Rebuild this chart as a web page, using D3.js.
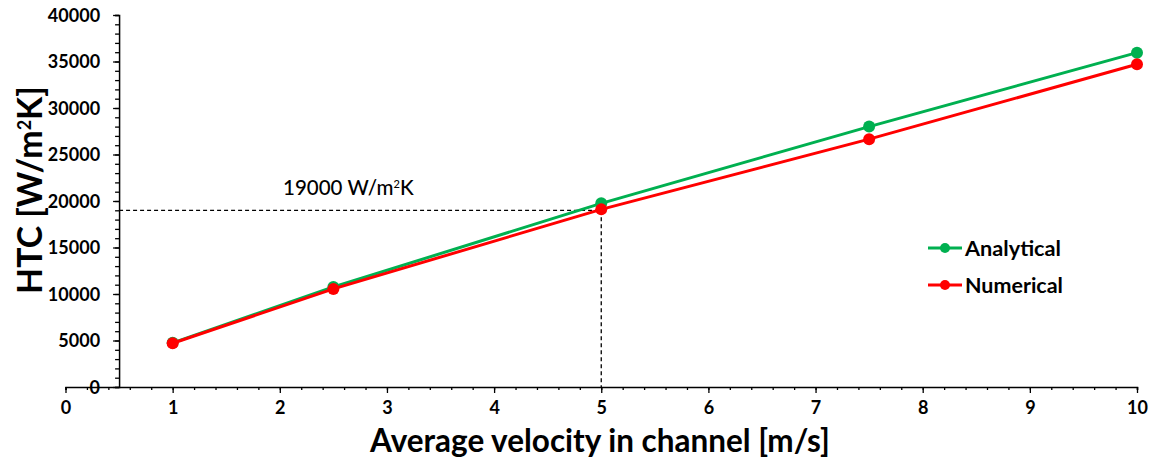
<!DOCTYPE html>
<html>
<head>
<meta charset="utf-8">
<script src="https://cdn.jsdelivr.net/npm/d3@7"></script>
<style>
  html, body { margin: 0; padding: 0; background: #fff; }
  svg { display: block; font-family: Lato, "Open Sans", sans-serif; }
</style>
</head>
<body>
<svg id="chart" width="1159" height="461"></svg>
<script>
// Heat transfer coefficient vs. channel velocity
const velocities = [1, 2.5, 5, 7.5, 10];
const analytical = [4750, 10750, 19750, 28000, 35950];
const numerical = [4700, 10550, 19100, 26650, 34700];
const seriesNames = ["Analytical", "Numerical"];
const seriesColors = ["#00B050", "#FF0000"];
const xTicks = [0, 1, 2, 3, 4, 5, 6, 7, 8, 9, 10];
const yTicks = [0, 5000, 10000, 15000, 20000, 25000, 30000, 35000, 40000];
const refVelocity = 5;
const refHTC = 19000;

const svg = d3.select("#chart");
const x = d3.scaleLinear().domain([0, 10]).range([65.5, 1137]);
const y = d3.scaleLinear().domain([0, 40000]).range([387, 15]);
const yAxisAt = 0.5;

// sets a font size so the text spans the given width
function fitWidth(sel, w) {
  const n = sel.node();
  const fs = parseFloat(sel.attr("font-size"));
  const len = n.getComputedTextLength();
  sel.attr("font-size", (fs * w / len).toFixed(2));
}

// X axis: major ticks at integers, minor every 0.2
const xAxisG = svg.append("g").attr("transform", `translate(0,${y(0)})`);
xAxisG.call(d3.axisBottom(x).tickValues(d3.range(0, 10.001, 0.2)).tickSize(3).tickFormat(""));
xAxisG.append("g").call(d3.axisBottom(x).tickValues(xTicks).tickSize(6).tickFormat(d3.format("d")));
xAxisG.selectAll(".domain").attr("stroke", "#000").attr("stroke-width", 1.5);
xAxisG.selectAll("line").attr("stroke", "#000").attr("stroke-width", 1.3);
xAxisG.selectAll("g g .domain").remove();
xAxisG.selectAll("text")
  .attr("fill", "#000").attr("font-size", 18).attr("font-weight", 700)
  .attr("font-family", "Lato, sans-serif").attr("dy", "1.0em");

// Y axis crossing at 0.5 m/s: major every 5000, minor every 1000
const yAxisG = svg.append("g").attr("transform", `translate(${x(yAxisAt)},0)`);
yAxisG.call(d3.axisLeft(y).tickValues(d3.range(0, 40001, 1000)).tickSize(4).tickFormat(""));
yAxisG.append("g").call(d3.axisLeft(y).tickValues(yTicks).tickSize(6).tickFormat(d3.format("d")));
yAxisG.selectAll(".domain").attr("stroke", "#000").attr("stroke-width", 1.5);
yAxisG.selectAll("g g .domain").remove();
yAxisG.selectAll("line").attr("stroke", "#000").attr("stroke-width", 1.3);
yAxisG.selectAll("text")
  .attr("fill", "#000").attr("font-size", 18).attr("font-weight", 700)
  .attr("font-family", "Lato, sans-serif").attr("x", -19).attr("dy", "0.36em");

// Reference guide at 5 m/s
const guide = svg.append("g").attr("stroke", "#000").attr("stroke-width", 1.3).attr("stroke-dasharray", "4,3");
guide.append("line").attr("x1", x(yAxisAt)).attr("x2", x(refVelocity)).attr("y1", y(refHTC)).attr("y2", y(refHTC));
guide.append("line").attr("x1", x(refVelocity)).attr("x2", x(refVelocity)).attr("y1", y(refHTC)).attr("y2", y(0));

const refLabel = svg.append("text")
  .attr("x", 283).attr("y", y(refHTC) - 15)
  .attr("font-size", 17).attr("fill", "#000").attr("font-family", "Lato, sans-serif").attr("font-weight", 500);
refLabel.append("tspan").text(d3.format("d")(refHTC) + " W/m");
refLabel.append("tspan").text("2").attr("font-size", 11).attr("dy", -7);
refLabel.append("tspan").text("K").attr("dy", 7);
fitWidth(refLabel, 132);

// Series lines and markers
const line = d3.line().x(d => x(d[0])).y(d => y(d[1]));
[analytical, numerical].forEach((vals, i) => {
  const pts = velocities.map((v, j) => [v, vals[j]]);
  const g = svg.append("g");
  g.append("path").datum(pts).attr("d", line)
    .attr("fill", "none").attr("stroke", seriesColors[i]).attr("stroke-width", 3);
  g.selectAll("circle").data(pts).join("circle")
    .attr("cx", d => x(d[0])).attr("cy", d => y(d[1])).attr("r", 6)
    .attr("fill", seriesColors[i]);
});

// Legend
const legend = svg.append("g").attr("transform", "translate(928,248)");
seriesNames.forEach((name, i) => {
  const row = legend.append("g").attr("transform", `translate(0,${i * 37})`);
  row.append("line").attr("x1", 0).attr("x2", 34).attr("stroke", seriesColors[i]).attr("stroke-width", 3);
  row.append("circle").attr("cx", 17).attr("r", 5).attr("fill", seriesColors[i]);
  const t = row.append("text").attr("x", 37).attr("dy", "0.36em").text(name)
    .attr("font-size", 20).attr("font-weight", 700).attr("fill", "#000");
  fitWidth(t, i === 0 ? 96 : 98);
});

// Axis titles
const xTitle = svg.append("text")
  .attr("x", 600).attr("y", 452).attr("text-anchor", "middle")
  .attr("font-size", 28).attr("font-weight", 700).attr("fill", "#000")
  .text("Average velocity in channel [m/s]");
fitWidth(xTitle, 460);

const yTitle = svg.append("text")
  .attr("transform", "translate(42,190) rotate(-90)").attr("text-anchor", "middle")
  .attr("font-size", 28).attr("font-weight", 700).attr("fill", "#000");
yTitle.append("tspan").text("HTC [W/m");
yTitle.append("tspan").text("2").attr("font-size", 18).attr("dy", -11);
yTitle.append("tspan").text("K]").attr("dy", 11);
fitWidth(yTitle, 210);
</script>
</body>
</html>
